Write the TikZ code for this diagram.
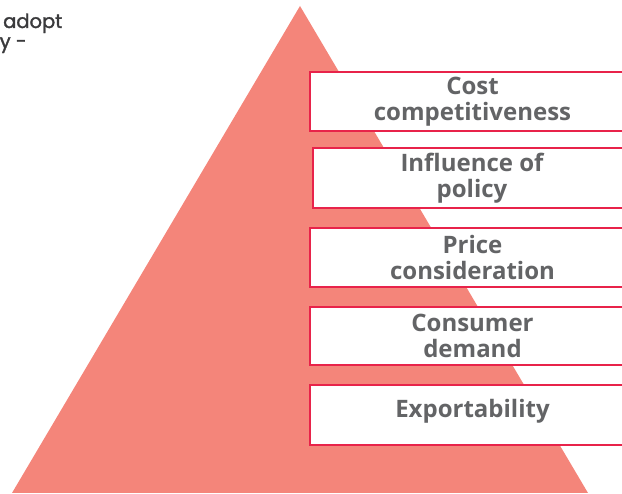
\documentclass[tikz,border=0pt]{standalone}
\usepackage{fontspec}
\setmainfont{Open Sans}
\newfontfamily\topfont{Poppins}[FakeBold=1.6]
\definecolor{trifill}{HTML}{F4857A}
\definecolor{boxline}{HTML}{E8234A}
\definecolor{boxtext}{HTML}{636466}
\definecolor{toptext}{HTML}{3A3A3C}
\tikzset{
  pyramid/.style={fill=trifill, draw=none},
  levelbox/.style={draw=boxline, line width=2pt, fill=white, inner sep=0pt,
    minimum width=325pt, minimum height=59pt, anchor=north west},
  leveltext/.style={text=boxtext, align=center, inner sep=0pt,
    font=\bfseries\fontsize{24}{25.5}\selectfont},
  headtext/.style={text=toptext, inner sep=0pt, anchor=base west,
    font=\topfont\fontsize{19.5}{22}\selectfont}
}
\begin{document}
\begin{tikzpicture}[x=1pt,y=1pt]
\useasboundingbox (0,0) rectangle (622,494);
\clip (0,0) rectangle (622,494);
% pyramid
\fill[pyramid] (12,1) -- (300,488) -- (588,1) -- cycle;
% partial heading text
\node[headtext] (h1) at (3,466) {adopt};
\node[headtext] (h2) at (-0.5,446) {y -};
% level boxes
\node[levelbox] (b1) at (309,423) {};
\node[levelbox, minimum height=60pt, minimum width=318pt] (b2) at (312,347) {};
\node[levelbox] (b3) at (309,267) {};
\node[levelbox, minimum height=58pt] (b4) at (309,188) {};
\node[levelbox, minimum height=60pt] (b5) at (309,110) {};
% labels
\node[leveltext] (t1) at (b1.center) {Cost\\competitiveness};
\node[leveltext] (t2) at (b2.center) {Influence of\\policy};
\node[leveltext] (t3) at (b3.center) {Price\\consideration};
\node[leveltext] (t4) at (b4.center) {Consumer\\demand};
\node[leveltext] (t5) at ([yshift=4pt]b5.center) {Exportability};
\end{tikzpicture}
\end{document}
